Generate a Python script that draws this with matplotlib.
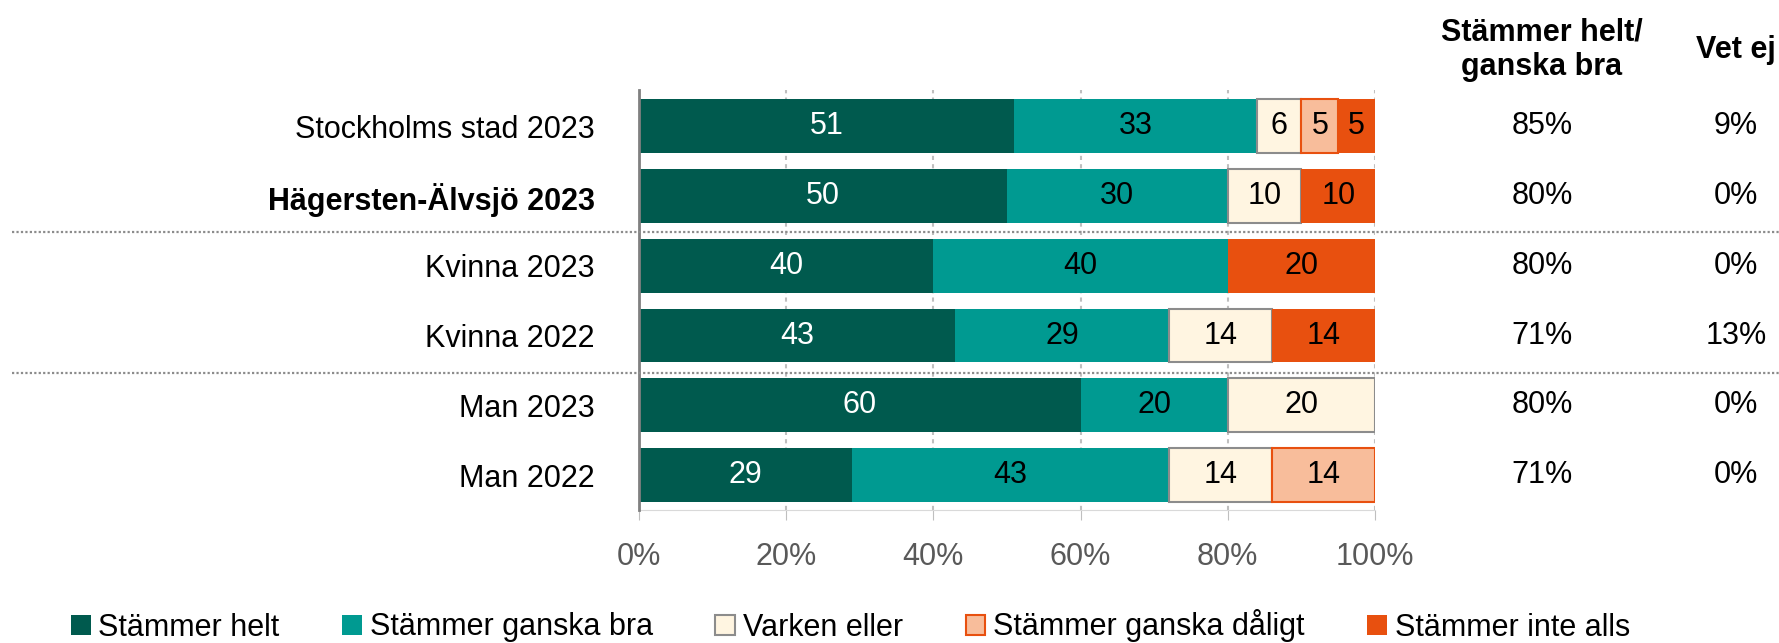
import matplotlib
matplotlib.use("Agg")
import matplotlib.pyplot as plt
from matplotlib.lines import Line2D
from matplotlib.patches import Patch
from matplotlib import font_manager

names = {f.name for f in font_manager.fontManager.ttflist}
if "Liberation Sans Narrow" in names:
    plt.rcParams["font.family"] = ["Liberation Sans Narrow", "Liberation Sans", "DejaVu Sans"]
else:
    plt.rcParams["font.family"] = ["Liberation Sans", "DejaVu Sans"]

groups = ["Stockholms stad 2023", "Hägersten-Älvsjö 2023", "Kvinna 2023",
          "Kvinna 2022", "Man 2023", "Man 2022"]
bold_group = "Hägersten-Älvsjö 2023"

series = ["Stämmer helt", "Stämmer ganska bra", "Varken eller",
          "Stämmer ganska dåligt", "Stämmer inte alls"]
helt = [51, 50, 40, 43, 60, 29]
ganska_bra = [33, 30, 40, 29, 20, 43]
varken = [6, 10, 0, 14, 20, 14]
ganska_daligt = [5, 0, 0, 0, 0, 14]
inte_alls = [5, 10, 20, 14, 0, 0]

helt_ganska = [85, 80, 80, 71, 80, 71]
vet_ej = [9, 0, 0, 13, 0, 0]

colors = ["#005A4E", "#009A91", "#FFF5E1", "#F8BD9B", "#E8500F"]
edges = [None, None, "#8C8C8C", "#E8500F", None]
text_colors = ["white", "black", "black", "black", "black"]

FS = 22
W, H = 1779, 643
fig = plt.figure(figsize=(W / 100, H / 100), dpi=100)
ax = fig.add_axes([639 / W, 1 - 510 / H, (1375 - 639) / W, (510 - 90) / H])

values = [helt, ganska_bra, varken, ganska_daligt, inte_alls]
y = list(range(len(groups)))
left = [0] * len(groups)
for k, vals in enumerate(values):
    for i, v in enumerate(vals):
        if v > 0:
            ec = edges[k] if edges[k] else colors[k]
            lw = 1.5 if edges[k] else 0
            ax.barh(y[i], v, left=left[i], height=0.77, color=colors[k],
                    edgecolor=ec, linewidth=lw, zorder=3)
            ax.text(left[i] + v / 2, y[i], str(v), ha="center", va="center",
                    fontsize=FS, color=text_colors[k], zorder=4)
        left[i] += v

ax.set_xlim(0, 100)
ax.set_ylim(len(groups) - 0.5, -0.52)
ax.set_xticks([0, 20, 40, 60, 80, 100])
ax.set_xticklabels([f"{t}%" for t in [0, 20, 40, 60, 80, 100]])
ax.tick_params(axis="x", length=7, color="#BFBFBF", labelsize=FS,
               labelcolor="#595959", pad=16)
ax.set_yticks(y)
ax.set_yticklabels(groups)
ax.tick_params(axis="y", length=0, labelsize=FS, pad=32)
for lab in ax.get_yticklabels():
    if lab.get_text() == bold_group:
        lab.set_fontweight("bold")
ax.xaxis.grid(True, color="#BFBFBF", linestyle=(0, (2, 2)), linewidth=1.5, zorder=0)
for s in ["top", "right"]:
    ax.spines[s].set_visible(False)
ax.spines["bottom"].set_color("#D9D9D9")
ax.spines["left"].set_color("#808080")
ax.spines["left"].set_linewidth(2)
ax.spines["left"].set_zorder(5)

# dotted separators between the group blocks
for yp in [232, 373]:
    fig.add_artist(Line2D([12 / W, 1], [1 - yp / H] * 2, transform=fig.transFigure,
                          color="#8C8C8C", linestyle=(0, (1, 1)), linewidth=1.6))

# summary columns on the right
col1, col2 = 1542 / W, 1736 / W
fig.text(col1, 1 - 50 / H, "Stämmer helt/\nganska bra", ha="center", va="center",
         fontsize=FS, fontweight="bold", linespacing=1.2)
fig.text(col2, 1 - 50 / H, "Vet ej", ha="center", va="center",
         fontsize=FS, fontweight="bold")
for i in y:
    yy = ax.transData.transform((0, i))[1] / H
    fig.text(col1, yy, f"{helt_ganska[i]}%", ha="center", va="center", fontsize=FS)
    fig.text(col2, yy, f"{vet_ej[i]}%", ha="center", va="center", fontsize=FS)

handles = [Patch(facecolor=colors[k], edgecolor=edges[k] if edges[k] else colors[k],
                 linewidth=1.5 if edges[k] else 0) for k in range(len(series))]
fig.legend(handles, series, loc="center", bbox_to_anchor=(0.478, 1 - 626 / H),
           ncol=5, frameon=False, fontsize=FS, handlelength=0.65, handleheight=0.65,
           handletextpad=0.25, columnspacing=2.05)

fig.savefig("out.png", dpi=100)
